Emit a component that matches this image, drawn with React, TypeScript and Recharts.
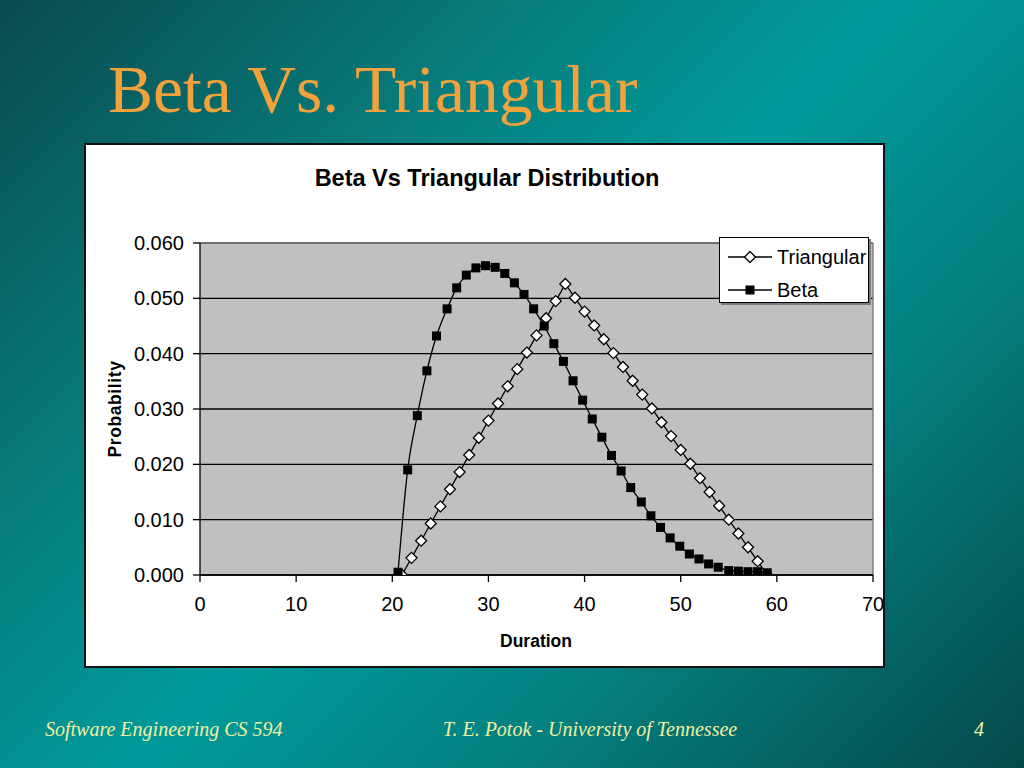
import React from 'react';
import { LineChart, Line, XAxis, YAxis, CartesianGrid, Legend, ReferenceLine } from 'recharts';

const triangularX = [21, 22, 23, 24, 25, 26, 27, 28, 29, 30, 31, 32, 33, 34, 35, 36, 37, 38, 39, 40, 41, 42, 43, 44, 45, 46, 47, 48, 49, 50, 51, 52, 53, 54, 55, 56, 57, 58, 59];
const triangularY = [0, 0.0031, 0.0062, 0.0093, 0.0124, 0.0155, 0.0186, 0.0217, 0.0248, 0.0279, 0.031, 0.0341, 0.0372, 0.0402, 0.0433, 0.0464, 0.0495, 0.0526, 0.0501, 0.0476, 0.0451, 0.0426, 0.0401, 0.0376, 0.0351, 0.0326, 0.0301, 0.0276, 0.0251, 0.0226, 0.0201, 0.0175, 0.015, 0.0125, 0.01, 0.0075, 0.005, 0.0025, 0];

const betaX = [20.6, 21.6, 22.6, 23.6, 24.6, 25.7, 26.7, 27.7, 28.7, 29.7, 30.7, 31.7, 32.7, 33.7, 34.7, 35.8, 36.8, 37.8, 38.8, 39.8, 40.8, 41.8, 42.8, 43.8, 44.8, 45.9, 46.9, 47.9, 48.9, 49.9, 50.9, 51.9, 52.9, 53.9, 55.0, 56.0, 57.0, 58.0, 59.0];
const betaY = [0.0005, 0.019, 0.0288, 0.0369, 0.0432, 0.0481, 0.0519, 0.0542, 0.0555, 0.0559, 0.0556, 0.0545, 0.0528, 0.0507, 0.0481, 0.045, 0.0418, 0.0386, 0.0351, 0.0316, 0.0282, 0.0249, 0.0216, 0.0188, 0.0158, 0.0132, 0.0107, 0.0086, 0.0067, 0.0052, 0.0038, 0.0029, 0.002, 0.0014, 0.0008, 0.0007, 0.0006, 0.0006, 0.0004];

const xTicks = [0, 10, 20, 30, 40, 50, 60, 70];
const yTicks = [0, 0.01, 0.02, 0.03, 0.04, 0.05, 0.06];
const legendOrder = ['Triangular', 'Beta'];

const triangularData = triangularX.map((x, i) => ({ x, y: triangularY[i] }));
const betaData = betaX.map((x, i) => ({ x, y: betaY[i] }));

const SANS = '"Liberation Sans", Arial, Helvetica, sans-serif';
const SERIF = '"Liberation Serif", "Times New Roman", serif';

const Diamond = ({ cx, cy }: { cx: number; cy: number }) => (
  <path
    d={`M${cx},${cy - 5.5} L${cx + 5.5},${cy} L${cx},${cy + 5.5} L${cx - 5.5},${cy} Z`}
    fill="#ffffff"
    stroke="#000000"
    strokeWidth={1.3}
  />
);

const Square = ({ cx, cy }: { cx: number; cy: number }) => (
  <rect x={cx - 4.5} y={cy - 4.5} width={9} height={9} fill="#000000" />
);

const LegendBox = (props: any) => {
  const payload = [...(props.payload || [])].sort(
    (a: any, b: any) => legendOrder.indexOf(a.value) - legendOrder.indexOf(b.value)
  );
  return (
    <div
      style={{
        width: 150,
        height: 66,
        background: '#ffffff',
        border: '1.5px solid #000',
        boxShadow: '2px 2px 0 #7a7a7a',
        boxSizing: 'border-box',
        position: 'relative',
        fontFamily: SANS,
        fontSize: 20,
        color: '#000',
      }}
    >
      {payload.map((entry: any, i: number) => {
        const top = i === 0 ? 19 : 52;
        const isTri = entry.value === 'Triangular';
        return (
          <div key={entry.value} style={{ position: 'absolute', left: 0, top: top - 12, height: 24, width: 150 }}>
            <svg width={50} height={24} style={{ position: 'absolute', left: 8, top: 0 }}>
              <line x1={0} y1={12} x2={44} y2={12} stroke="#000" strokeWidth={1.3} />
              {isTri ? <Diamond cx={22} cy={12} /> : <Square cx={22} cy={12} />}
            </svg>
            <span style={{ position: 'absolute', left: 57, top: 0, lineHeight: '24px', whiteSpace: 'nowrap' }}>{entry.value}</span>
          </div>
        );
      })}
    </div>
  );
};

export default function App() {
  return (
    <div
      style={{
        position: 'absolute',
        left: 0,
        top: 0,
        width: 1024,
        height: 768,
        overflow: 'hidden',
        background: 'linear-gradient(135deg, #094a4d 0%, #087a7a 28%, #009a9a 50%, #057e7e 72%, #044849 100%)',
      }}
    >
      <svg width={1024} height={768} style={{ position: 'absolute', left: 0, top: 0 }}>
        <text x={108} y={112} fontFamily={SERIF} fontSize={67.5} fill="#f2a23c">Beta Vs. Triangular</text>
        <text x={45} y={736} fontFamily={SERIF} fontStyle="italic" fontSize={20} fill="#f0f0a0">Software Engineering CS 594</text>
        <text x={590} y={736} fontFamily={SERIF} fontStyle="italic" fontSize={20} fill="#f0f0a0" textAnchor="middle">T. E. Potok - University of Tennessee</text>
        <text x={979} y={736} fontFamily={SERIF} fontStyle="italic" fontSize={20} fill="#f0f0a0" textAnchor="middle">4</text>
      </svg>
      <div
        style={{
          position: 'absolute',
          left: 84,
          top: 143,
          width: 801,
          height: 525,
          background: '#ffffff',
          border: '2px solid #111',
          boxSizing: 'border-box',
          overflow: 'hidden',
        }}
      >
        <LineChart
          width={797}
          height={521}
          margin={{ top: 98, right: 10, bottom: 31, left: 44 }}
        >
          <CartesianGrid vertical={false} stroke="#000" strokeWidth={1.3} fill="#c0c0c0" fillOpacity={1} />
          <XAxis
            type="number"
            dataKey="x"
            domain={[0, 70]}
            ticks={xTicks}
            interval={0}
            height={60}
            tickSize={7}
            tickMargin={15}
            stroke="#000"
            tick={{ fill: '#000', fontSize: 20, fontFamily: SANS }}
            tickLine={{ stroke: '#000', strokeWidth: 1.3 }}
            axisLine={{ stroke: '#000', strokeWidth: 1.3 }}
            allowDataOverflow
          />
          <YAxis
            type="number"
            domain={[0, 0.06]}
            ticks={yTicks}
            interval={0}
            width={70}
            tickSize={7}
            tickMargin={9}
            tickFormatter={(v: number) => v.toFixed(3)}
            tick={{ fill: '#000', fontSize: 20, fontFamily: SANS }}
            tickLine={{ stroke: '#000', strokeWidth: 1.3 }}
            axisLine={{ stroke: '#000', strokeWidth: 1.3 }}
            allowDataOverflow
          />
          <ReferenceLine y={0.06} stroke="#808080" strokeWidth={1.5} />
          <ReferenceLine x={70} stroke="#808080" strokeWidth={1.5} />
          <Legend
            layout="vertical"
            align="center"
            verticalAlign="middle"
            wrapperStyle={{ left: 633, top: 92, width: 150, height: 66 }}
            content={<LegendBox />}
          />
          <Line
            name="Triangular"
            data={triangularData}
            dataKey="y"
            type="linear"
            stroke="#000"
            strokeWidth={1.3}
            isAnimationActive={false}
            dot={(p: any) => <Diamond key={`t-${p.index}`} cx={p.cx} cy={p.cy} />}
            activeDot={false}
          />
          <Line
            name="Beta"
            data={betaData}
            dataKey="y"
            type="monotone"
            stroke="#000"
            strokeWidth={1.3}
            isAnimationActive={false}
            dot={(p: any) => <Square key={`b-${p.index}`} cx={p.cx} cy={p.cy} />}
            activeDot={false}
          />
        </LineChart>
      </div>
      <svg width={1024} height={768} style={{ position: 'absolute', left: 0, top: 0, pointerEvents: 'none' }}>
        <text x={487} y={186} fontFamily={SANS} fontWeight="bold" fontSize={23.5} fill="#000" textAnchor="middle">Beta Vs Triangular Distribution</text>
        <text x={536} y={647} fontFamily={SANS} fontWeight="bold" fontSize={17.5} fill="#000" textAnchor="middle">Duration</text>
        <text
          x={0}
          y={0}
          transform="translate(121,409) rotate(-90)"
          fontFamily={SANS}
          fontWeight="bold"
          fontSize={17.5}
          letterSpacing={0.6}
          fill="#000"
          textAnchor="middle"
        >
          Probability
        </text>
      </svg>
    </div>
  );
}
